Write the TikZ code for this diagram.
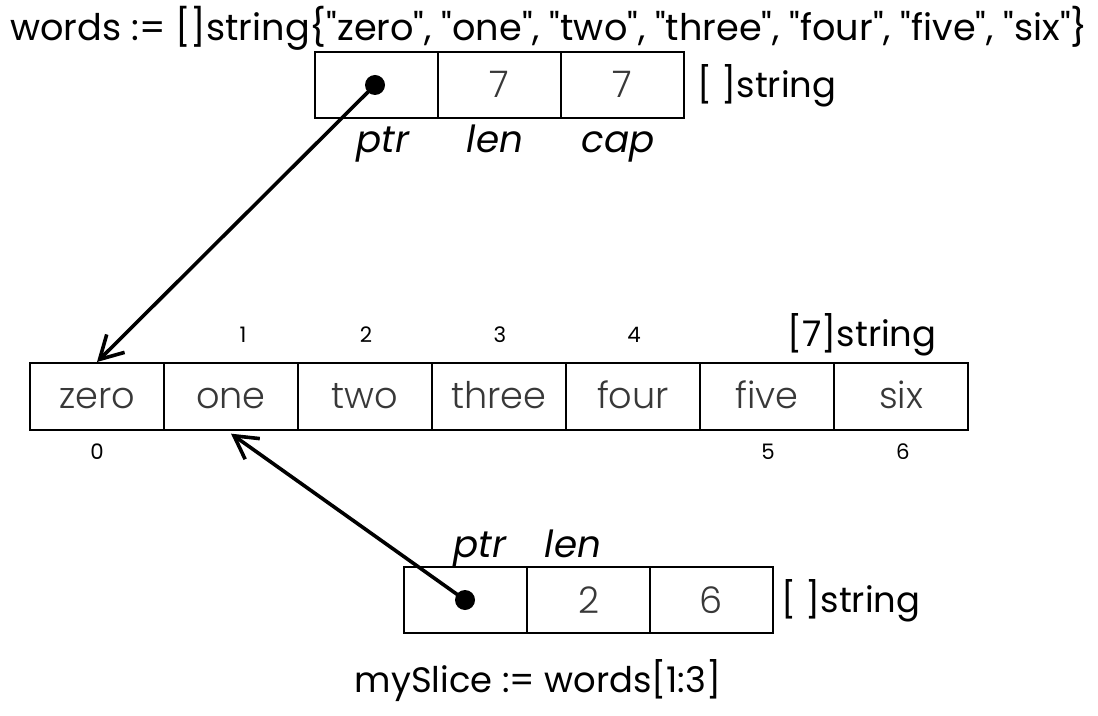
\documentclass[tikz,border=0pt]{standalone}
\usepackage{fontspec}
\setmainfont{Poppins}[Ligatures=TeXOff]
\IfFontExistsTF{Poppins Light}{\newfontfamily\cellfont{Poppins Light}[Ligatures=TeXOff]}{\newfontfamily\cellfont{Poppins}[Ligatures=TeXOff]}
\usetikzlibrary{arrows.meta}
\definecolor{celltext}{HTML}{383838}
\tikzset{
  px/.style={x=0.75pt,y=-0.75pt},
  topcell/.style={draw,line width=1.5pt,minimum width=92.25pt,minimum height=49.5pt,inner sep=0pt,text height=19.5pt,text depth=0pt,font=\cellfont\fontsize{27.5}{30}\selectfont,text=celltext},
  arrcell/.style={draw,line width=1.5pt,minimum width=100.5pt,minimum height=50.25pt,inner sep=0pt,text height=17.25pt,text depth=0pt,font=\cellfont\fontsize{27.5}{30}\selectfont,text=celltext},
  idx/.style={font=\fontsize{16}{18}\selectfont,inner sep=0pt,anchor=base},
  lbl/.style={font=\fontsize{28}{30}\selectfont\itshape,inner sep=0pt,anchor=base},
  typ/.style={font=\fontsize{26.5}{30}\selectfont,inner sep=0pt,anchor=base},
  ptrdot/.style={circle,fill=black,minimum size=15pt,inner sep=0pt},
  ptrarrow/.style={line width=2.7pt,-{Straight Barb[length=17pt,width=19pt,line width=2.7pt]}}
}
\begin{document}
\begin{tikzpicture}[px]
\useasboundingbox (0,0) rectangle (1098,716);
\node[typ,font=\fontsize{27.5}{30}\selectfont] (title) at (549,41) {words := []string\{"zero", "one", "two", "three", "four", "five", "six"\}};
% top slice header
\node[topcell] (tp) at (376.5,85) {};
\node[topcell] (tl) at (499.5,85) {7};
\node[topcell] (tc) at (622.5,85) {7};
\node[typ,anchor=base west] (tt) at (697,98) {[ ]string};
\node[lbl] (tpl) at (383,153) {ptr};
\node[lbl] (tll) at (495,153) {len};
\node[lbl] (tcl) at (618,153) {cap};
\node[ptrdot] (td) at (375,85) {};
% array
\node[arrcell] (a0) at (97,396.5) {zero};
\node[arrcell] (a1) at (231,396.5) {one};
\node[arrcell] (a2) at (365,396.5) {two};
\node[arrcell] (a3) at (499,396.5) {three};
\node[arrcell] (a4) at (633,396.5) {four};
\node[arrcell] (a5) at (767,396.5) {five};
\node[arrcell] (a6) at (901,396.5) {six};
\node[typ] (at) at (862,346) {[7]string};
\node[idx] (i0) at (97,459) {0};
\node[idx] (i1) at (243,342) {1};
\node[idx] (i2) at (366,342) {2};
\node[idx] (i3) at (500,342) {3};
\node[idx] (i4) at (634,342) {4};
\node[idx] (i5) at (768,459) {5};
\node[idx] (i6) at (903,459) {6};
% bottom slice header
\node[topcell] (bp) at (465.5,600) {};
\node[topcell] (bl) at (588.5,600) {2};
\node[topcell] (bc) at (711.5,600) {6};
\node[typ,anchor=base west] (bt) at (781,612) {[ ]string};
\node[lbl] (bpl) at (480,557) {ptr};
\node[lbl] (bll) at (573,557) {len};
\node[ptrdot] (bd) at (465,600) {};
\node[typ] (cap2) at (538,692) {mySlice := words[1:3]};
% pointers
\draw[ptrarrow] (td.center) -- (a0.north);
\draw[ptrarrow] (bd.center) -- ([yshift=-2pt]a1.south);
\end{tikzpicture}
\end{document}
